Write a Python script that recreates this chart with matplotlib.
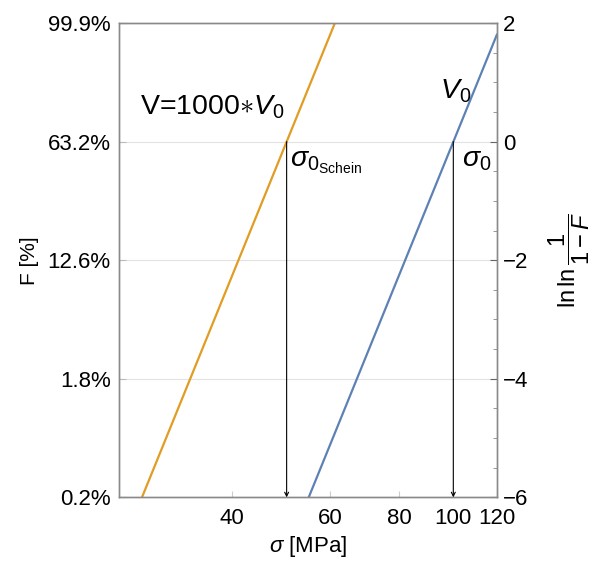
import matplotlib
matplotlib.use("Agg")
import matplotlib.pyplot as plt
from matplotlib.ticker import NullLocator, MultipleLocator, FixedLocator, FixedFormatter

plt.rcParams['font.family'] = ['Liberation Sans', 'DejaVu Sans']
plt.rcParams['mathtext.fontset'] = 'custom'
plt.rcParams['mathtext.rm'] = 'Liberation Sans'
plt.rcParams['mathtext.it'] = 'Liberation Sans:italic'
plt.rcParams['mathtext.bf'] = 'Liberation Sans:bold'

# Weibull lines (sigma in MPa, ln ln 1/(1-F))
sigma_V0 = [54.9, 120.0]
lnln_V0 = [-6.0, 1.82]
sigma_V1000 = [27.5, 61.2]
lnln_V1000 = [-6.0, 2.0]
sigma0 = 100.0
sigma0_schein = 50.1

# axis ticks
lnln_ticks = [-6, -4, -2, 0, 2]
F_labels = ['0.2%', '1.8%', '12.6%', '63.2%', '99.9%']
x_ticks = [40, 60, 80, 100, 120]

orange = '#E19C24'
blue = '#5E81B5'
spine_col = '#8a8a8a'

fig = plt.figure(figsize=(5.92, 5.62), dpi=100)
ax = fig.add_axes([0.201, 0.115, 0.639, 0.844])

ax.set_xscale('log')
ax.set_xlim(25, 120)
ax.set_ylim(-6, 2)

# grid lines at the F ticks
for y in lnln_ticks[1:-1]:
    ax.axhline(y, color='#e2e2e2', lw=0.8, zorder=0)

ax.plot(sigma_V1000, lnln_V1000, color=orange, lw=1.6, solid_capstyle='butt')
ax.plot(sigma_V0, lnln_V0, color=blue, lw=1.6, solid_capstyle='butt')

# drop lines with arrow heads down to the axis
for s in [sigma0_schein, sigma0]:
    ax.annotate('', xy=(s, -6), xytext=(s, 0),
                arrowprops=dict(arrowstyle='->', lw=0.8, color='black',
                                mutation_scale=7, shrinkA=0, shrinkB=0))

ax.text(27.3, 0.45, r'V=1000$\ast V_0$', fontsize=20.5, ha='left', va='baseline')
ax.text(94.5, 0.72, r'$V_0$', fontsize=20.5, ha='left', va='baseline')
ax.text(50.9, -0.42, r'$\sigma_{0_{\mathrm{Schein}}}$', fontsize=20.5, ha='left', va='baseline')
ax.text(103.5, -0.42, r'$\sigma_0$', fontsize=20.5, ha='left', va='baseline')

# left axis in F
ax.set_yticks(lnln_ticks)
ax.set_yticklabels(F_labels)
ax.tick_params(axis='y', direction='in', length=5, color='#bbbbbb', labelsize=16, pad=6)
ax.set_ylabel('F [%]', fontsize=15, labelpad=6)

for sp in ax.spines.values():
    sp.set_color(spine_col)
    sp.set_linewidth(1.0)

# right axis in ln ln 1/(1-F)
ax2 = ax.twinx()
ax2.set_ylim(-6, 2)
ax2.set_yticks(lnln_ticks)
ax2.set_yticklabels(['\u2212' + str(-v) if v < 0 else str(v) for v in lnln_ticks])
ax2.yaxis.set_minor_locator(MultipleLocator(0.5))
ax2.tick_params(axis='y', which='major', direction='in', length=5, color='#666666',
                labelsize=16, pad=4)
ax2.tick_params(axis='y', which='minor', direction='in', length=3, color='#888888')
ax2.set_ylabel(r'$\mathregular{ln\,ln}\,\dfrac{1}{1-F}$', fontsize=17, labelpad=13)
for sp in ax2.spines.values():
    sp.set_color(spine_col)
    sp.set_linewidth(1.0)

# x axis (set after twinx so the log scale does not reset the ticks)
ax.xaxis.set_minor_locator(NullLocator())
ax.xaxis.set_major_locator(FixedLocator(x_ticks))
ax.xaxis.set_major_formatter(FixedFormatter([str(v) for v in x_ticks]))
ax.tick_params(axis='x', direction='in', length=4, color='#cccccc', labelsize=16, pad=8)
ax.set_xlabel(r'$\sigma$ [MPa]', fontsize=16, labelpad=3)

fig.savefig('out.png', dpi=100)
